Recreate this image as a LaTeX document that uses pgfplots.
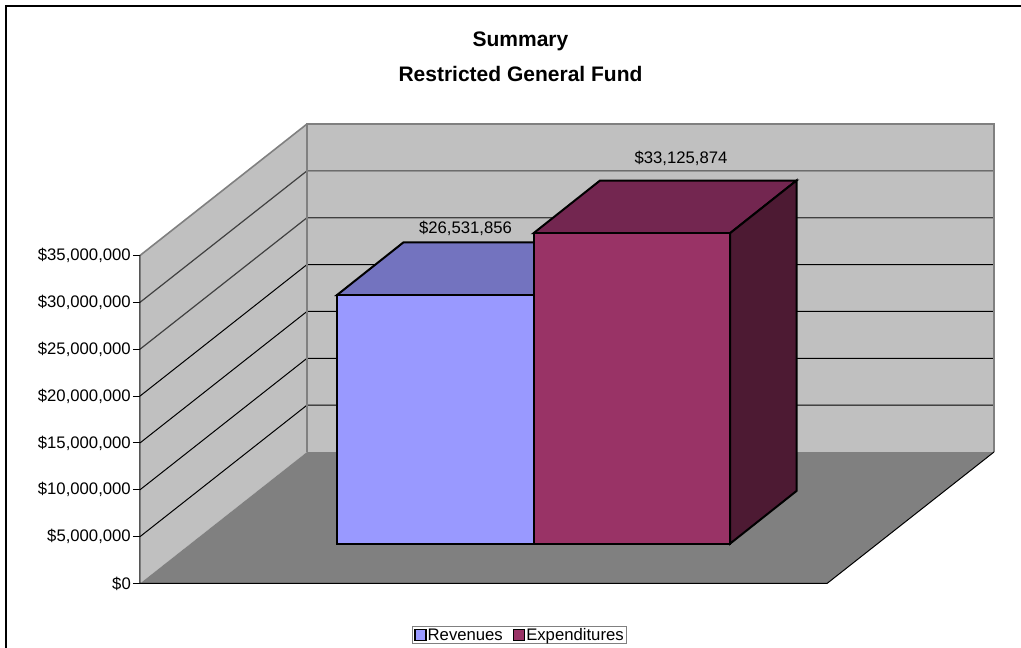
\documentclass[border=0pt]{standalone}
\usepackage{pgfplots}
\pgfplotsset{compat=1.18}
\usepackage{fontspec}
\setmainfont{Liberation Sans}

\definecolor{wall}{HTML}{C0C0C0}
\definecolor{floorc}{HTML}{808080}
\definecolor{revfront}{HTML}{9999FF}
\definecolor{revtop}{HTML}{7373BF}
\definecolor{expfront}{HTML}{993366}
\definecolor{exptop}{HTML}{732650}
\definecolor{expside}{HTML}{4D1A33}

\newcommand{\chartfont}{\fontsize{16.7pt}{20pt}\selectfont}

\pgfplotsset{
    face/.style={draw=black, line width=2pt, line join=miter, no markers},
    grid3d/.style={forget plot, no markers, line width=1pt, draw=black},
}

\begin{document}
\begin{tikzpicture}
\useasboundingbox (-140pt,-64.5pt) rectangle (881pt,583.5pt);
\fill[white] (-140pt,-64.5pt) rectangle (881pt,583.5pt);
\draw[black, line width=1.4pt] (-134pt,-64.5pt) -- (-134pt,577.5pt) -- (881pt,577.5pt);
\begin{axis}[
    at={(0pt,0pt)}, anchor=origin,
    scale only axis,
    width=854pt, height=459.5pt,
    xmin=140, xmax=994,
    ymin=0, ymax=49.03,
    clip=false,
    axis x line=none,
    axis y line*=left,
    y axis line style={draw=none},
    ytick={0,5,10,15,20,25,30,35},
    yticklabels={\$0,{\$5,000,000},{\$10,000,000},{\$15,000,000},{\$20,000,000},{\$25,000,000},{\$30,000,000},{\$35,000,000}},
    tick align=outside,
    major tick length=7pt,
    tick style={black, line width=1pt},
    yticklabel style={font=\chartfont, inner sep=2pt},
    legend columns=2,
    legend cell align=left,
    legend style={
        at={(axis cs:519.5,-5.51)}, anchor=center,
        draw=gray, line width=1pt, fill=white,
        font=\chartfont,
        inner xsep=2pt, inner ysep=1pt,
        /tikz/every even column/.style={column sep=9pt},
        nodes={inner sep=1pt},
    },
    legend image code/.code={
        \draw[#1, line width=1.4pt] (0pt,-5.5pt) rectangle (11pt,5.5pt);
    },
]
% walls and floor, x in picture px, y in $ million along the front plane
\addplot[forget plot, fill=wall, draw=none] coordinates {(140,0)(140,35)(307,49.03)(307,14.03)} -- cycle;
\addplot[forget plot, fill=wall, draw=none] coordinates {(307,14.03)(307,49.03)(994,49.03)(994,14.03)} -- cycle;

% gridlines
\addplot[grid3d] coordinates {(140,5)(307,19.03)(994,19.03)};
\addplot[grid3d] coordinates {(140,10)(307,24.03)(994,24.03)};
\addplot[grid3d] coordinates {(140,15)(307,29.03)(994,29.03)};
\addplot[grid3d] coordinates {(140,20)(307,34.03)(994,34.03)};
\addplot[grid3d, draw=black!75, line width=1.2pt] coordinates {(140,25)(307,39.03)(994,39.03)};
\addplot[grid3d, draw=black!75, line width=1.2pt] coordinates {(140,30)(307,44.03)(994,44.03)};
\addplot[forget plot, no markers, draw=floorc, line width=1.6pt] coordinates {(307,14.03)(307,49.03)(994,49.03)(994,14.03)};
\addplot[forget plot, no markers, draw=floorc, line width=1.6pt] coordinates {(140,35)(307,49.03)};

% floor
\addplot[forget plot, fill=floorc, draw=none] coordinates {(140,0)(307,14.03)(994,14.03)(827,0)} -- cycle;
\addplot[forget plot, no markers, draw=black, line width=1pt] coordinates {(140,35)(140,0)(827,0)(994,14.03)};

% Revenues, front rises 26.532 from its base at 4.247
\addplot[face, forget plot, fill=revtop] coordinates {(337,30.779)(403.5,36.403)(600,36.403)(533.5,30.779)} -- cycle;
\addplot[face, fill=revfront] coordinates {(337,4.247)(337,30.779)(533.5,30.779)(533.5,4.247)} -- cycle;
\addlegendentry{Revenues}

% Expenditures, front rises 33.126 from its base at 4.247
\addplot[face, forget plot, fill=exptop] coordinates {(533.5,37.373)(600,42.997)(796.5,42.997)(730,37.373)} -- cycle;
\addplot[face, forget plot, fill=expside] coordinates {(730,4.247)(796.5,9.871)(796.5,42.997)(730,37.373)} -- cycle;
\addplot[face, fill=expfront] coordinates {(533.5,4.247)(533.5,37.373)(730,37.373)(730,4.247)} -- cycle;
\addlegendentry{Expenditures}

\node[font=\chartfont] at (axis cs:465.5,37.93) {\$26,531,856};
\node[font=\chartfont] at (axis cs:681,45.4) {\$33,125,874};
\node[font=\fontsize{21pt}{35pt}\selectfont\bfseries, align=center] at (axis cs:520.5,56.2) {Summary\\Restricted General Fund};
\end{axis}
\end{tikzpicture}
\end{document}
